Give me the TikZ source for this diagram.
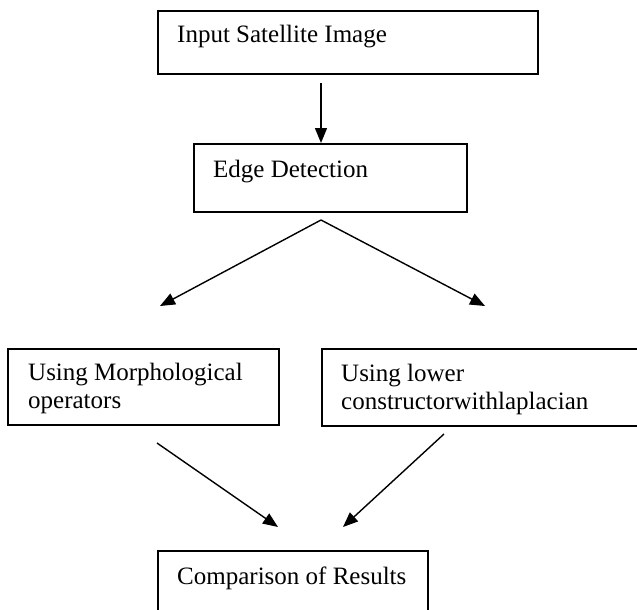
\documentclass[tikz,border=0pt]{standalone}
\usepackage{fontspec}
\setmainfont{Liberation Serif}
\usetikzlibrary{arrows.meta}
\begin{document}
\begin{tikzpicture}[x=1pt,y=-1pt,
  box/.style={draw,line width=1.8pt,rectangle,inner sep=0pt,anchor=north west},
  txt/.style={anchor=base west,inner sep=0pt,font=\fontsize{25}{28}\selectfont,align=left},
  arr/.style={line width=1.4pt,-{Triangle[length=15pt,width=12pt]}}]
\useasboundingbox (0,0) rectangle (637,610);
\clip (0,0) rectangle (637,610);
% boxes
\node[box,minimum width=380pt,minimum height=63pt] (b1) at (157,10) {};
\node[box,minimum width=273pt,minimum height=68pt] (b2) at (193,143) {};
\node[box,minimum width=271pt,minimum height=76pt] (b3) at (7,348) {};
\node[box,minimum width=340pt,minimum height=77pt] (b4) at (321,348) {};
\node[box,minimum width=270pt,minimum height=80pt] (b5) at (157,550) {};
% texts (multi-line nodes are anchored at the baseline of their last line)
\node[txt] (t1) at ([shift={(20pt,-33pt)}]b1.north west) {Input Satellite Image};
\node[txt] (t2) at ([shift={(20pt,-34pt)}]b2.north west) {Edge Detection};
\node[txt] (t3) at ([shift={(21pt,-60pt)}]b3.north west) {Using Morphological\\operators};
\node[txt] (t4) at ([shift={(20pt,-61pt)}]b4.north west) {Using lower\\constructorwithlaplacian};
\node[txt] (t5) at ([shift={(20pt,-34pt)}]b5.north west) {Comparison of Results};
% connector ends
\coordinate (a1s) at (321,83);
\coordinate (a1e) at (321,143);
\coordinate (fork) at (321,220);
\coordinate (l1e) at (160,306);
\coordinate (r1e) at (485,306);
\coordinate (l2s) at (157,443);
\coordinate (l2e) at (278,527);
\coordinate (r2s) at (444,434);
\coordinate (r2e) at (343,527);
\draw[arr] (a1s) -- (a1e);
\draw[arr] (fork) -- (l1e);
\draw[arr] (fork) -- (r1e);
\draw[arr] (l2s) -- (l2e);
\draw[arr] (r2s) -- (r2e);
\end{tikzpicture}
\end{document}
